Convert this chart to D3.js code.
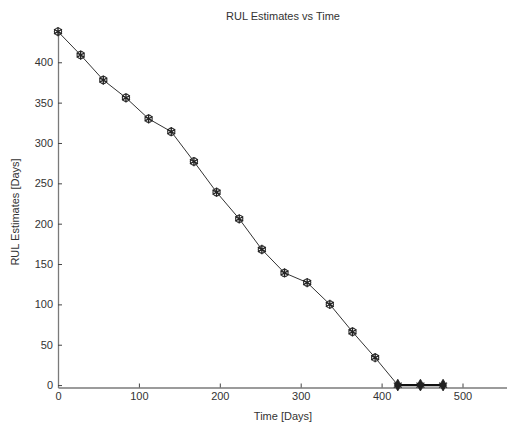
<!DOCTYPE html>
<html>
<head>
<meta charset="utf-8">
<script src="https://cdn.jsdelivr.net/npm/d3@7"></script>
<style>
  html, body { margin: 0; padding: 0; background: #fff; }
  svg { display: block; }
  text { font-family: "Liberation Sans", Arial, sans-serif; fill: #333; }
</style>
</head>
<body>
<svg id="chart" width="507" height="427"></svg>
<script>
// Remaining-useful-life estimates, one every 28 days
const timeDays = [0, 28, 56, 84, 112, 140, 168, 196, 224, 252, 280, 308, 336, 364, 392, 420, 448, 476];
const rulDays  = [438, 409, 378, 356, 330, 314, 277, 239, 206, 168, 139, 127, 100, 66, 34, 0, 0, 0];
const xTicks = [0, 100, 200, 300, 400, 500];
const yTicks = [0, 50, 100, 150, 200, 250, 300, 350, 400];

const svg = d3.select("#chart");
const plotLeft = 58, plotRight = 507, plotTop = 30, plotBottom = 387.5;

const x = d3.scaleLinear().domain([0, 555]).range([plotLeft, plotRight]);
const y = d3.scaleLinear().domain([-3, 440]).range([plotBottom, plotTop]);

const axisColor = "#7a7a7a";

// Axes: ticks point inward, as in MATLAB
const xAxis = svg.append("g")
  .attr("transform", `translate(0,${plotBottom})`)
  .call(d3.axisBottom(x).tickValues(xTicks).tickSizeInner(-4).tickSizeOuter(0).tickPadding(5));
const yAxis = svg.append("g")
  .attr("transform", `translate(${plotLeft},0)`)
  .call(d3.axisLeft(y).tickValues(yTicks).tickSizeInner(-4).tickSizeOuter(0).tickPadding(5));

[xAxis, yAxis].forEach(g => {
  g.select(".domain").attr("stroke", axisColor).attr("stroke-width", 1.3);
  g.selectAll(".tick line").attr("stroke", "#444").attr("stroke-width", 1);
  g.selectAll(".tick text")
    .attr("font-size", 11)
    .attr("font-family", "Liberation Sans, Arial, sans-serif")
    .attr("fill", "#333");
});

// Estimate trace
const pts = timeDays.map((t, i) => [t, rulDays[i]]);
const firstZero = rulDays.indexOf(0);
const line = d3.line().x(d => x(d[0])).y(d => y(d[1]));

svg.append("path")
  .datum(pts.slice(0, firstZero + 1))
  .attr("fill", "none")
  .attr("stroke", "#333")
  .attr("stroke-width", 1)
  .attr("d", line);

// End-of-life segment drawn heavier
svg.append("path")
  .datum(pts.slice(firstZero))
  .attr("fill", "none")
  .attr("stroke", "#111")
  .attr("stroke-width", 2.2)
  .attr("d", line);

// Markers: circle overlaid with asterisk
const star = d3.symbol().type(d3.symbolAsterisk).size(60);
const mk = svg.append("g");
pts.forEach(([t, v], i) => {
  const g = mk.append("g").attr("transform", `translate(${x(t)},${y(v)})`);
  if (i < firstZero) {
    g.append("circle").attr("r", 3.6).attr("fill", "none").attr("stroke", "#333").attr("stroke-width", 1.2);
    g.append("path").attr("d", star()).attr("fill", "none").attr("stroke", "#222").attr("stroke-width", 1.3);
  } else {
    g.append("path").attr("d", d3.symbol().type(d3.symbolDiamond).size(40)())
      .attr("fill", "#222").attr("stroke", "#222").attr("stroke-width", 0.8);
    g.append("path").attr("d", star()).attr("fill", "none").attr("stroke", "#222").attr("stroke-width", 1.2);
  }
});

// Titles
svg.append("text")
  .attr("x", 283).attr("y", 20)
  .attr("text-anchor", "middle").attr("font-size", 11).attr("fill", "#444")
  .text("RUL Estimates vs Time");

svg.append("text")
  .attr("x", 283).attr("y", 420)
  .attr("text-anchor", "middle").attr("font-size", 11)
  .text("Time [Days]");

svg.append("text")
  .attr("transform", "translate(19,212) rotate(-90)")
  .attr("text-anchor", "middle").attr("font-size", 11)
  .text("RUL Estimates [Days]");
</script>
</body>
</html>
